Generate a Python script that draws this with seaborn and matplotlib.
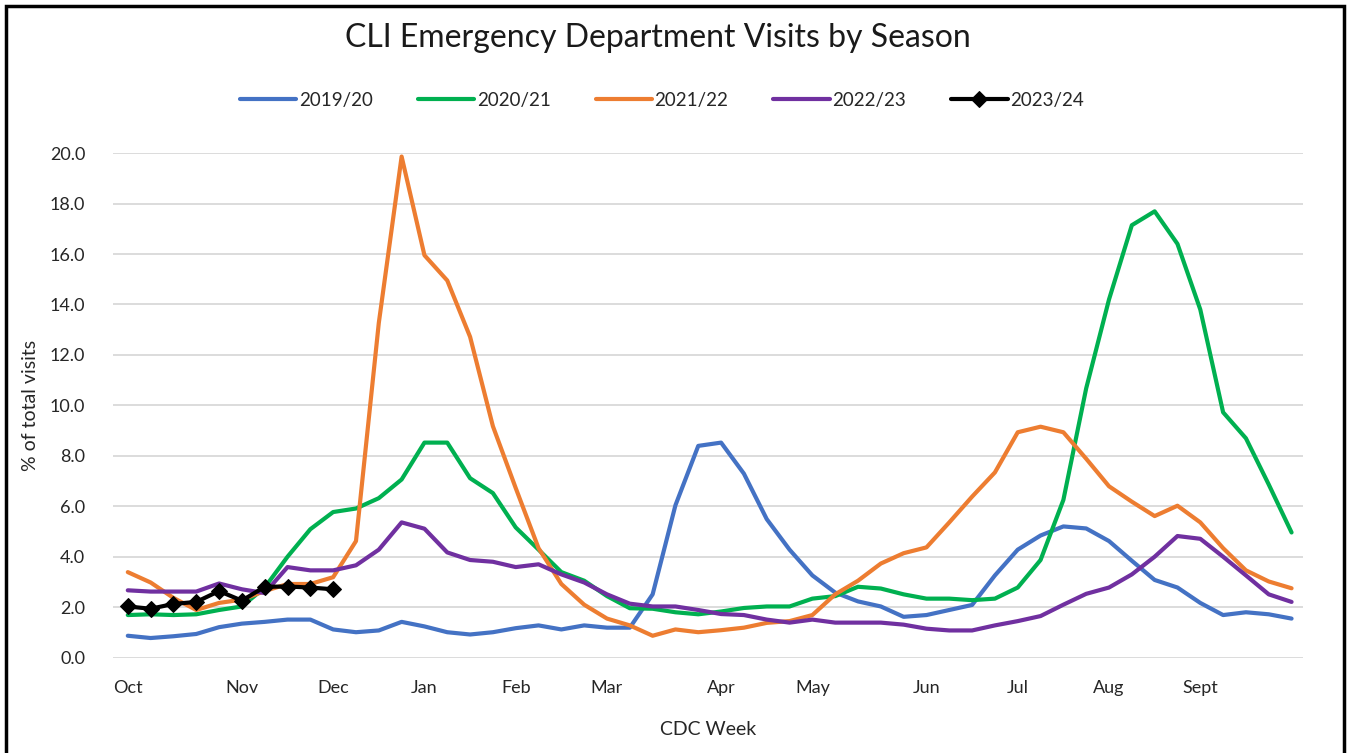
import matplotlib
matplotlib.use("Agg")
import matplotlib.pyplot as plt
import seaborn as sns
import numpy as np
from matplotlib.patches import Rectangle

# weekly values, week 0 = first week of Oct
s2019 = [0.88, 0.79, 0.86, 0.95, 1.22, 1.36, 1.43, 1.52, 1.52, 1.13, 1.02, 1.09, 1.43,
         1.25, 1.02, 0.93, 1.02, 1.18, 1.29, 1.13, 1.29, 1.20, 1.20, 2.52, 6.05, 8.40,
         8.53, 7.30, 5.50, 4.29, 3.27, 2.59, 2.24, 2.04, 1.63, 1.70, 1.90, 2.10, 3.27,
         4.29, 4.85, 5.21, 5.13, 4.63, 3.85, 3.09, 2.79, 2.18, 1.70, 1.81, 1.73, 1.56]
s2020 = [1.70, 1.73, 1.70, 1.73, 1.90, 2.04, 2.79, 4.01, 5.10, 5.78, 5.92, 6.33, 7.07,
         8.53, 8.53, 7.12, 6.53, 5.17, 4.29, 3.40, 3.06, 2.45, 1.97, 1.95, 1.81, 1.73,
         1.84, 1.98, 2.04, 2.04, 2.35, 2.45, 2.82, 2.75, 2.52, 2.35, 2.35, 2.29, 2.35,
         2.79, 3.88, 6.26, 10.68, 14.20, 17.14, 17.69, 16.40, 13.80, 9.73, 8.70, 6.87, 4.97]
s2021 = [3.40, 2.99, 2.38, 1.90, 2.18, 2.31, 2.65, 2.93, 2.93, 3.20, 4.63, 13.27, 19.86,
         15.95, 14.95, 12.72, 9.18, 6.73, 4.35, 2.93, 2.11, 1.56, 1.29, 0.88, 1.13, 1.02,
         1.10, 1.20, 1.39, 1.46, 1.70, 2.52, 3.06, 3.74, 4.15, 4.38, 5.37, 6.39, 7.35,
         8.94, 9.16, 8.94, 7.89, 6.80, 6.19, 5.62, 6.03, 5.37, 4.35, 3.47, 3.03, 2.76]
s2022 = [2.68, 2.63, 2.63, 2.63, 2.95, 2.72, 2.57, 3.60, 3.47, 3.47, 3.67, 4.29, 5.37,
         5.12, 4.18, 3.88, 3.81, 3.60, 3.71, 3.31, 2.99, 2.52, 2.15, 2.04, 2.04, 1.90,
         1.74, 1.70, 1.52, 1.40, 1.52, 1.40, 1.40, 1.40, 1.32, 1.16, 1.09, 1.09, 1.29,
         1.46, 1.66, 2.11, 2.54, 2.79, 3.31, 4.01, 4.83, 4.72, 4.01, 3.27, 2.52, 2.22]
s2023 = [2.04, 1.95, 2.14, 2.22, 2.65, 2.27, 2.82, 2.83, 2.79, 2.72]

seasons = ["2019/20", "2020/21", "2021/22", "2022/23", "2023/24"]
colors = ["#4472C4", "#00B050", "#ED7D31", "#7030A0", "#000000"]
month_labels = ["Oct", "Nov", "Dec", "Jan", "Feb", "Mar", "Apr", "May", "Jun", "Jul", "Aug", "Sept"]
month_weeks = [0, 5, 9, 13, 17, 21, 26, 30, 35, 39, 43, 47]

sns.set_style("white")
plt.rcParams["font.family"] = ["Lato", "DejaVu Sans"]

fig = plt.figure(figsize=(13.48, 7.53), dpi=100)
ax = fig.add_axes([0.0838, 0.1262, 0.8828, 0.6706])

all_series = [s2019, s2020, s2021, s2022, s2023]
for name, vals, col in zip(seasons, all_series, colors):
    wk = np.arange(len(vals))
    if name == "2023/24":
        sns.lineplot(x=wk, y=vals, ax=ax, color=col, linewidth=3, marker="D",
                     markersize=8, markeredgecolor=col, label=name, zorder=5)
    else:
        sns.lineplot(x=wk, y=vals, ax=ax, color=col, linewidth=3, label=name)

ax.set_xlim(-0.65, 51.5)
ax.set_ylim(0, 20)
ax.set_yticks(np.arange(0, 21, 2))
ax.set_yticklabels([f"{v:.1f}" for v in np.arange(0, 21, 2)], fontsize=13, color="#262626")
ax.set_xticks(month_weeks)
ax.set_xticklabels(month_labels, fontsize=13, color="#262626")
ax.tick_params(axis="both", length=0)
ax.tick_params(axis="x", pad=16)
ax.tick_params(axis="y", pad=20)
ax.grid(axis="y", color="#D9D9D9", linewidth=1.3)
ax.grid(axis="x", visible=False)
for sp in ax.spines.values():
    sp.set_visible(False)

ax.set_xlabel("CDC Week", fontsize=14, color="#262626", labelpad=18)
ax.set_ylabel("% of total visits", fontsize=14, color="#262626", labelpad=8)

fig.text(0.488, 0.949, "CLI Emergency Department Visits by Season",
         ha="center", va="center", fontsize=23, color="#1a1a1a")

handles, labels = ax.get_legend_handles_labels()
ax.legend_.remove()
fig.legend(handles, labels, loc="center", bbox_to_anchor=(0.491, 0.867), ncol=5,
           frameon=False, handlelength=3.0, handletextpad=0.15, columnspacing=2.4,
           prop={"size": 13.5})

# outer chart frame
fig.patches.append(Rectangle((6 / 1348, -0.05), (1344 - 6) / 1348, 1.05 - 6 / 753,
                             transform=fig.transFigure, fill=False,
                             edgecolor="black", linewidth=2.5))

fig.savefig("out.png", dpi=100)
